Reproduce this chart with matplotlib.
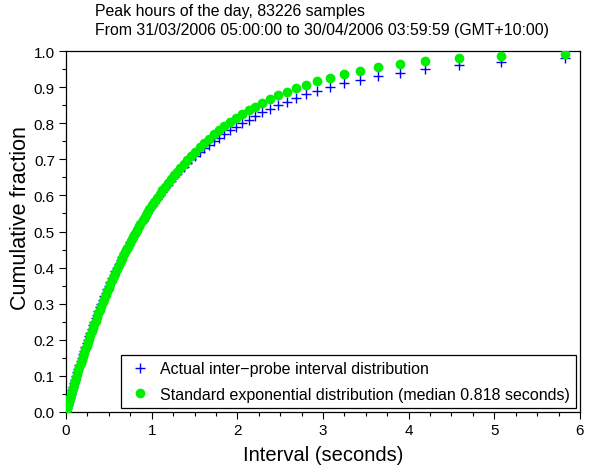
import numpy as np
import matplotlib
matplotlib.use("Agg")
import matplotlib.pyplot as plt
from matplotlib.ticker import MultipleLocator, FormatStrFormatter

plt.rcParams['font.family'] = ['Liberation Sans', 'DejaVu Sans']

# cumulative fraction of the actual intervals (0.00 .. 0.98)
actual_frac = [round(0.01 * i, 2) for i in range(99)]

# interval (seconds) at each of those fractions
interval_s = [
    0.003, 0.0113, 0.0226, 0.0342, 0.0458, 0.0575, 0.0694, 0.0814, 0.0935, 0.1057,
    0.1181, 0.1313, 0.1443, 0.1572, 0.1705, 0.1839, 0.1976, 0.2113, 0.2253, 0.2395,
    0.2538, 0.2685, 0.2832, 0.2982, 0.3135, 0.3290, 0.3447, 0.3606, 0.3768, 0.3933,
    0.4104, 0.4278, 0.4451, 0.4627, 0.4806, 0.4987, 0.5172, 0.5360, 0.5557, 0.5751,
    0.5956, 0.6165, 0.6371, 0.6581, 0.6795, 0.7013, 0.7236, 0.7462, 0.7694, 0.7938,
    0.818, 0.8426, 0.8679, 0.8937, 0.9201, 0.9470, 0.9747, 1.0030, 1.0320, 1.0617,
    1.0921, 1.1234, 1.1556, 1.1886, 1.2226, 1.2575, 1.2935, 1.3306, 1.372, 1.415,
    1.461, 1.509, 1.559, 1.613, 1.670, 1.728, 1.788, 1.850, 1.916, 1.984,
    2.058, 2.133, 2.208, 2.288, 2.378, 2.475, 2.576, 2.685, 2.801, 2.926,
    3.078, 3.249, 3.432, 3.645, 3.895, 4.187, 4.591, 5.074, 5.821,
]

# standard exponential fraction at the same intervals
expo_frac = [
    0.0025, 0.0095, 0.0190, 0.0285, 0.0380, 0.0476, 0.0571, 0.0666, 0.0762, 0.0857,
    0.0952, 0.1053, 0.1150, 0.1248, 0.1345, 0.1443, 0.1541, 0.1639, 0.1738, 0.1837,
    0.1936, 0.2035, 0.2134, 0.2233, 0.2333, 0.2433, 0.2533, 0.2633, 0.2734, 0.2834,
    0.2937, 0.3041, 0.3142, 0.3244, 0.3345, 0.3447, 0.3548, 0.3650, 0.3755, 0.3858,
    0.3963, 0.4069, 0.4172, 0.4274, 0.4377, 0.4480, 0.4583, 0.4687, 0.4790, 0.4897,
    0.5000, 0.5103, 0.5207, 0.5311, 0.5414, 0.5518, 0.5622, 0.5725, 0.5829, 0.5933,
    0.6037, 0.6140, 0.6244, 0.6348, 0.6451, 0.6555, 0.6658, 0.6762, 0.6873, 0.6985,
    0.7100, 0.7216, 0.7332, 0.7451, 0.7571, 0.7688, 0.7802, 0.7915, 0.8028, 0.8139,
    0.8252, 0.8359, 0.8460, 0.8561, 0.8667, 0.8772, 0.8873, 0.8972, 0.9068, 0.9162,
    0.9263, 0.9363, 0.9454, 0.9544, 0.9631, 0.9712, 0.9796, 0.9864, 0.9928,
]

title_lines = ["Peak hours of the day, 83226 samples",
               "From 31/03/2006 05:00:00 to 30/04/2006 03:59:59 (GMT+10:00)"]

fig = plt.figure(figsize=(5.9, 4.77), dpi=100)
ax = fig.add_axes([66 / 590, 1 - 413 / 477, (580 - 66) / 590, (413 - 52) / 477])

ax.plot(interval_s, actual_frac, linestyle='none', marker='+', color='#0000ff',
        markersize=7, markeredgewidth=1.0, label='Actual inter\u2212probe interval distribution', zorder=3)
ax.plot(interval_s, expo_frac, linestyle='none', marker='o', color='#00ee00',
        markersize=7, markeredgewidth=0, label='Standard exponential distribution (median 0.818 seconds)', zorder=4)

ax.set_xlim(0, 6)
ax.set_ylim(0, 1)
ax.xaxis.set_major_locator(MultipleLocator(1))
ax.xaxis.set_minor_locator(MultipleLocator(0.25))
ax.yaxis.set_major_locator(MultipleLocator(0.1))
ax.yaxis.set_minor_locator(MultipleLocator(0.05))
ax.yaxis.set_major_formatter(FormatStrFormatter('%.1f'))
ax.tick_params(which='major', direction='out', length=5, width=0.8, labelsize=11, pad=3)
ax.tick_params(which='minor', direction='out', length=3, width=0.8)
for s in ax.spines.values():
    s.set_linewidth(0.9)

ax.set_xlabel('Interval (seconds)', fontsize=14.5, labelpad=6)
ax.set_ylabel('Cumulative fraction', fontsize=15.5)
ax.yaxis.set_label_coords(-0.068, 0.54)

fig.text(95 / 590, 1 - 4 / 477, "\n".join(title_lines), ha='left', va='top',
         fontsize=11.4, linespacing=1.35)

leg = ax.legend(loc='lower right', fontsize=11.5, frameon=True, fancybox=False,
                edgecolor='black', framealpha=1, borderpad=0.4, handletextpad=0.5,
                borderaxespad=0.25, labelspacing=0.65, handlelength=1.5)
leg.get_frame().set_linewidth(0.9)

fig.savefig('out.png', dpi=100)
